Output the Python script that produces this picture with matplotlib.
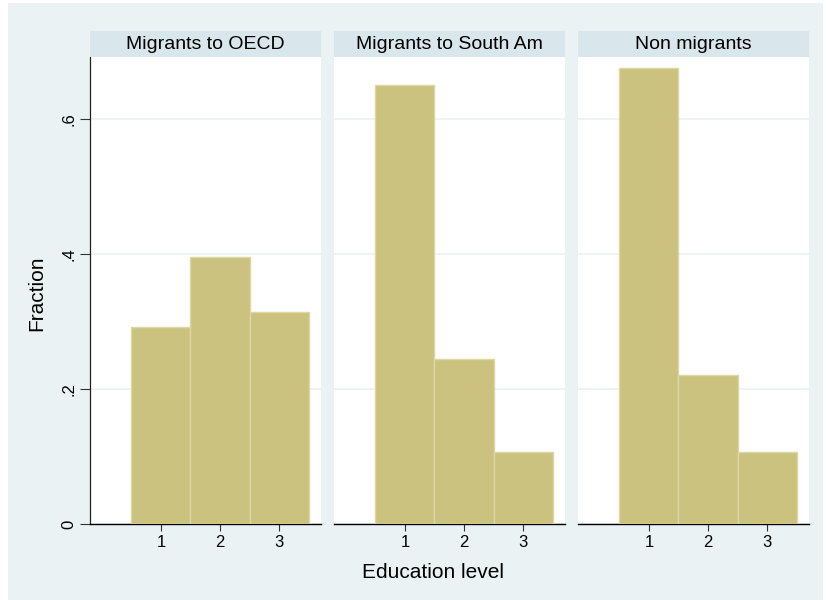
import matplotlib.pyplot as plt
from matplotlib.patches import Rectangle

plt.rcParams['font.family'] = ['Liberation Sans', 'DejaVu Sans']

# Share of each education level within each group
groups = ["Migrants to OECD", "Migrants to South Am", "Non migrants"]
levels = [1, 2, 3]
fractions = [
    [0.292, 0.396, 0.314],
    [0.650, 0.244, 0.107],
    [0.675, 0.221, 0.107],
]
yticks = [0, 0.2, 0.4, 0.6]
ytick_labels = ["0", ".2", ".4", ".6"]

W, H = 826, 600
bg = "#eaf2f3"
strip_col = "#d9e6eb"
bar_col = "#cac27e"
bar_edge = "#dcd8a4"

fig = plt.figure(figsize=(W / 100, H / 100), dpi=100, facecolor="white")
fig.patches.append(Rectangle((8 / W, 0), (823 - 8) / W, 1 - 3 / H,
                             transform=fig.transFigure, facecolor=bg,
                             edgecolor="none", zorder=-10))


def box(x0, x1, ytop, ybot):
    return [x0 / W, 1 - ybot / H, (x1 - x0) / W, (ybot - ytop) / H]


panel_x = [(90, 321), (334, 565), (578, 809)]
plot_top, plot_bot = 57, 524
strip_top = 31

for i, (name, vals) in enumerate(zip(groups, fractions)):
    x0, x1 = panel_x[i]
    ax = fig.add_axes(box(x0, x1, plot_top, plot_bot))
    ax.set_facecolor("white")
    ax.bar(levels, vals, width=1, color=bar_col, edgecolor=bar_edge,
           linewidth=1, zorder=3)
    ax.set_xlim(-0.2, 3.71)
    ax.set_ylim(0, 0.692)
    ax.set_yticks(yticks)
    ax.grid(axis="y", color=bg, linewidth=1.2, zorder=1)
    for s in ["top", "right", "left"]:
        ax.spines[s].set_visible(False)
    ax.spines["bottom"].set_color("black")
    ax.spines["bottom"].set_linewidth(1)
    ax.set_xticks(levels)
    ax.set_xticklabels([str(v) for v in levels], fontsize=12)
    ax.tick_params(axis="x", length=5, width=0.8, color="#333333", pad=3)
    if i == 0:
        ax.spines["left"].set_visible(True)
        ax.spines["left"].set_color("#222222")
        ax.spines["left"].set_linewidth(0.9)
        ax.set_yticklabels(ytick_labels, fontsize=12, rotation=90, va="center")
        ax.tick_params(axis="y", length=7, width=0.8, color="#333333", pad=3)
    else:
        ax.tick_params(axis="y", left=False, labelleft=False)

    sax = fig.add_axes(box(x0, x1, strip_top, plot_top))
    sax.set_facecolor(strip_col)
    sax.set_xticks([])
    sax.set_yticks([])
    for s in sax.spines.values():
        s.set_visible(False)
    sax.text(0.5, 0.48, name, ha="center", va="center", fontsize=14,
             transform=sax.transAxes)

fig.text(37 / W, 1 - 293 / H, "Fraction", rotation=90, ha="center",
         va="center", fontsize=15)
fig.text(433 / W, 1 - 572 / H, "Education level", ha="center",
         va="center", fontsize=15)

fig.savefig("out.png", dpi=100, facecolor="white")
